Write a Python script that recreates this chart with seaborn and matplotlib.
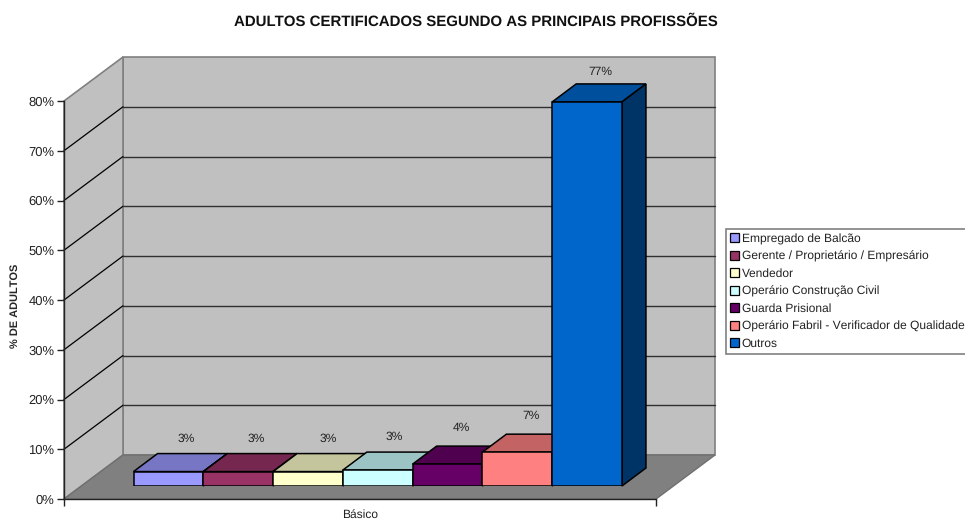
import matplotlib
matplotlib.use("Agg")
import matplotlib.pyplot as plt
from matplotlib.colors import to_rgb
from matplotlib.patches import Polygon
import pandas as pd
import seaborn as sns

sns.set_theme(style="white")
plt.rcParams["font.family"] = ["Liberation Sans", "DejaVu Sans"]
plt.rcParams["text.hinting"] = "none"
plt.rcParams["text.hinting_factor"] = 1

titulo = "ADULTOS CERTIFICADOS SEGUNDO AS PRINCIPAIS PROFISSÕES"
profissoes = ["Empregado de Balcão", "Gerente / Proprietário / Empresário", "Vendedor",
              "Operário Construção Civil", "Guarda Prisional",
              "Operário Fabril - Verificador de Qualidade", "Outros"]
valores = [2.9, 2.9, 2.9, 3.2, 4.4, 6.8, 77.2]
rotulos = ["3%", "3%", "3%", "3%", "4%", "7%", "77%"]
cores = ["#9999FF", "#993366", "#FFFFCC", "#CCFFFF", "#660066", "#FF8080", "#0066CC"]
grupo = "Básico"
yticks = [0, 10, 20, 30, 40, 50, 60, 70, 80]

W, H = 965, 520
df = pd.DataFrame({"grupo": grupo, "profissao": profissoes, "valor": valores})


def box(x0, y0, x1, y1):
    # pixel box (y from the top) -> figure fraction
    return [x0 / W, 1 - y1 / H, (x1 - x0) / W, (y1 - y0) / H]


def sombra(cor, f):
    return tuple(c * f for c in to_rgb(cor))


fig = plt.figure(figsize=(W / 100, H / 100), dpi=100, facecolor="white")

# pixel canvas for the fake 3d walls
bg = fig.add_axes([0, 0, 1, 1], zorder=0)
bg.set_xlim(0, W)
bg.set_ylim(H, 0)
bg.axis("off")

# front plane carries the axis
ax = fig.add_axes(box(64, 101, 656, 499), zorder=1)
ax.patch.set_alpha(0)
ax.set_xlim(-0.5, 0.5)
ax.set_ylim(0, 80)
ax.set_yticks(yticks)
ax.set_yticklabels([f"{v}%" for v in yticks], fontsize=9, color="#222222")
ax.set_xticks([-0.5, 0.5])
ax.set_xticklabels([])
ax.tick_params(axis="both", length=5, width=1, color="#222222", pad=2, bottom=True, left=True)
ax.set_xlabel(grupo, fontsize=8.6, color="#222222", va="center")
ax.xaxis.set_label_coords(0.5, -0.04)
ax.set_ylabel("% DE ADULTOS", fontsize=7.9, fontweight="bold", va="center")
ax.yaxis.set_label_coords(-0.0828, 0.485)
for s in ["top", "right"]:
    ax.spines[s].set_visible(False)
for s in ["left", "bottom"]:
    ax.spines[s].set_color("#222222")
    ax.spines[s].set_linewidth(1)

dx, dy = 59, -44
xl, xr, yb, yt = 64, 656, 499, 101
bg.add_patch(Polygon([(xl + dx, yt + dy), (xr + dx, yt + dy), (xr + dx, yb + dy), (xl + dx, yb + dy)],
                     fc="#C0C0C0", ec="#808080", lw=1.2))
bg.add_patch(Polygon([(xl, yt), (xl + dx, yt + dy), (xl + dx, yb + dy), (xl, yb)],
                     fc="#C0C0C0", ec="#808080", lw=1.2))
bg.add_patch(Polygon([(xl, yb), (xl + dx, yb + dy), (xr + dx, yb + dy), (xr, yb)],
                     fc="#808080", ec="#707070", lw=1))
for v in yticks[1:-1]:
    y = H - ax.transData.transform((0, v))[1]
    bg.plot([xl, xl + dx], [y, y + dy], color="black", lw=0.9)
    bg.plot([xl + dx, xr + dx], [y + dy, y + dy], color="#303030", lw=1)

# bars stand a bit behind the front plane
ax_bar = fig.add_axes(box(81.75, 88, 673.75, 486), zorder=2)
sns.barplot(data=df, x="grupo", y="valor", hue="profissao", hue_order=profissoes,
            palette=cores, width=0.825, gap=0, saturation=1, edgecolor="black",
            linewidth=1.1, ax=ax_bar)
ax_bar.set_xlim(-0.5, 0.5)
ax_bar.set_ylim(0, 80)
ax_bar.axis("off")

barras = sorted([p for p in ax_bar.patches if p.get_height() > 0], key=lambda p: p.get_x())
bx, by = 24, -18
desloc = [(17.5, -33), (18, -33), (20, -33), (16, -33), (14, -36), (13.5, -36), (13, -30)]
for p, cor, txt, d in zip(barras, cores, rotulos, desloc):
    (x0, y0), (x1, y1) = ax_bar.transData.transform(
        [(p.get_x(), 0), (p.get_x() + p.get_width(), p.get_height())])
    y0, y1 = H - y0, H - y1
    bg.add_patch(Polygon([(x0, y1), (x0 + bx, y1 + by), (x1 + bx, y1 + by), (x1, y1)],
                         fc=sombra(cor, 0.77), ec="black", lw=1.1, zorder=5))
    bg.add_patch(Polygon([(x1, y1), (x1 + bx, y1 + by), (x1 + bx, y0 + by), (x1, y0)],
                         fc=sombra(cor, 0.5), ec="black", lw=1.1, zorder=5))
    ax_bar.annotate(txt, (p.get_x() + p.get_width() / 2, p.get_height()),
                    xytext=(d[0] * 0.72, -d[1] * 0.72), textcoords="offset points",
                    ha="center", va="center", fontsize=8.8, color="#222222")

leg = ax_bar.legend(loc="upper left", bbox_to_anchor=(726 / W, 1 - 229 / H),
                    bbox_transform=fig.transFigure, fontsize=8.9, frameon=True, fancybox=False,
                    framealpha=1, edgecolor="#808080", borderaxespad=0, borderpad=0.35,
                    handlelength=0.72, handleheight=0.72, handletextpad=0.2, labelspacing=0.5,
                    labelcolor="#222222")
leg.get_frame().set_linewidth(1.2)
for h in leg.legend_handles:
    h.set_edgecolor("black")
    h.set_linewidth(0.9)

fig.text(476 / W, 1 - 22 / H, titulo, ha="center", va="center", fontsize=10.8, fontweight="bold",
         color="#111111")

fig.savefig("out.png", dpi=100)
